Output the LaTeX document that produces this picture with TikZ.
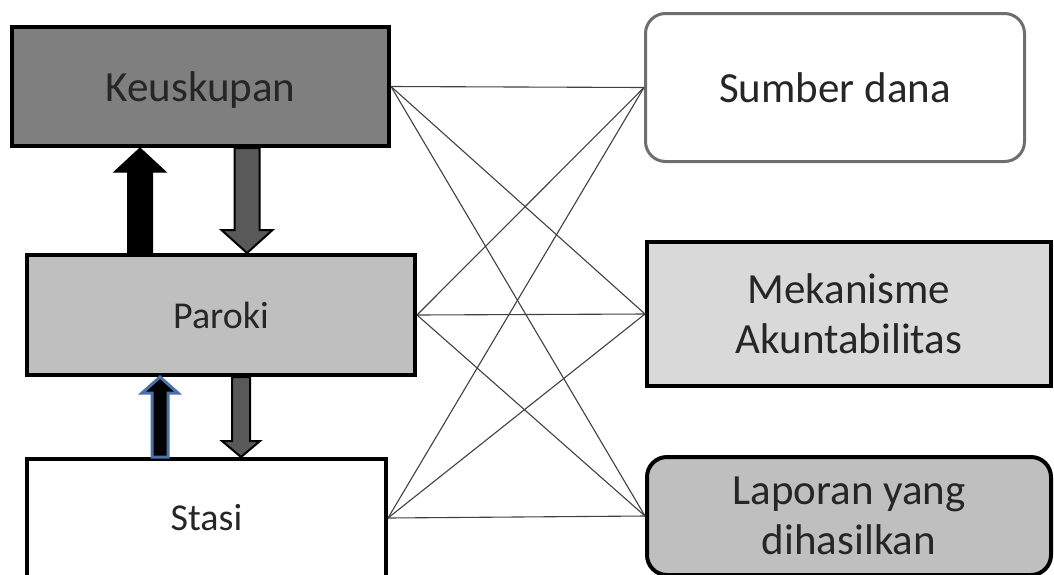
\documentclass[tikz,border=0pt]{standalone}
\usepackage{fontspec}
\setmainfont{Carlito}
\usetikzlibrary{calc}

\definecolor{txtgray}{HTML}{262626}
\definecolor{dkgray}{HTML}{7F7F7F}
\definecolor{mdgray}{HTML}{BFBFBF}
\definecolor{ltgray}{HTML}{D9D9D9}
\definecolor{arrgray}{HTML}{595959}
\definecolor{linegray}{HTML}{404040}
\definecolor{rimgray}{HTML}{6E6E6E}
\definecolor{arrblue}{HTML}{4A72A8}

\tikzset{
  box/.style={draw=black, line width=4pt, text=txtgray, align=center, inner sep=0pt},
  big/.style={font=\fontsize{43}{50}\selectfont},
  small/.style={font=\fontsize{38}{44}\selectfont},
  link/.style={draw=linegray, line width=1.1pt},
}

% block arrow: style, base, tip, shaft half width, head half width, head length
\newcommand{\blockarrow}[6]{%
  \coordinate (hb) at ($(#3)!#6!(#2)$);
  \filldraw[#1] ($(#2)+(-#4,0)$) -- ($(hb)+(-#4,0)$) -- ($(hb)+(-#5,0)$) -- (#3)
    -- ($(hb)+(#5,0)$) -- ($(hb)+(#4,0)$) -- ($(#2)+(#4,0)$) -- cycle;}

\begin{document}
\begin{tikzpicture}[x=1pt,y=-1pt]
\useasboundingbox (0,0) rectangle (1054,574);

% left column
\node[box,big,text depth=0pt,fill=dkgray,minimum width=377pt,minimum height=119pt] (kp) at (200.5,86.5) {Keuskupan};
\node[box,small,fill=mdgray,minimum width=388pt,minimum height=120pt] (pr) at (221,315) {Paroki};
\node[box,small,fill=white,minimum width=359pt,minimum height=118pt] (st) at (206.5,518) {Stasi};

% right column
\node[box,big,draw=rimgray,line width=3pt,rounded corners=20pt,fill=white,minimum width=379pt,minimum height=148pt] (sd) at (835,87.5) {Sumber dana};
\node[box,big,fill=ltgray,minimum width=404pt,minimum height=144pt] (mk) at (849,314) {Mekanisme\\Akuntabilitas};
\node[box,big,rounded corners=20pt,fill=mdgray,minimum width=404pt,minimum height=118pt] (lp) at (849,516) {Laporan yang\\dihasilkan};

% links
\foreach \a in {kp,pr,st}{
  \foreach \b in {sd,mk,lp}{
    \draw[link] (\a.east) -- (\b.west);
  }
}

% arrows between levels
\coordinate (u1b) at (140,0 |- pr.north);
\coordinate (u1t) at (140,0 |- kp.south);
\coordinate (d1b) at (247,0 |- kp.south);
\coordinate (d1t) at (247,0 |- pr.north);
\coordinate (u2b) at (160,0 |- st.north);
\coordinate (u2t) at (160,0 |- pr.south);
\coordinate (d2b) at (241,0 |- pr.south);
\coordinate (d2t) at (241,0 |- st.north);
\blockarrow{fill=black,draw=black,line width=1pt}{u1b}{u1t}{12.5}{26}{24pt}
\blockarrow{fill=arrgray,draw=black,line width=2pt}{d1b}{d1t}{12.5}{25.5}{23pt}
\blockarrow{fill=black,draw=arrblue,line width=3pt}{u2b}{u2t}{8}{18}{16pt}
\blockarrow{fill=arrgray,draw=black,line width=2pt}{d2b}{d2t}{9}{19}{16pt}
\end{tikzpicture}
\end{document}
